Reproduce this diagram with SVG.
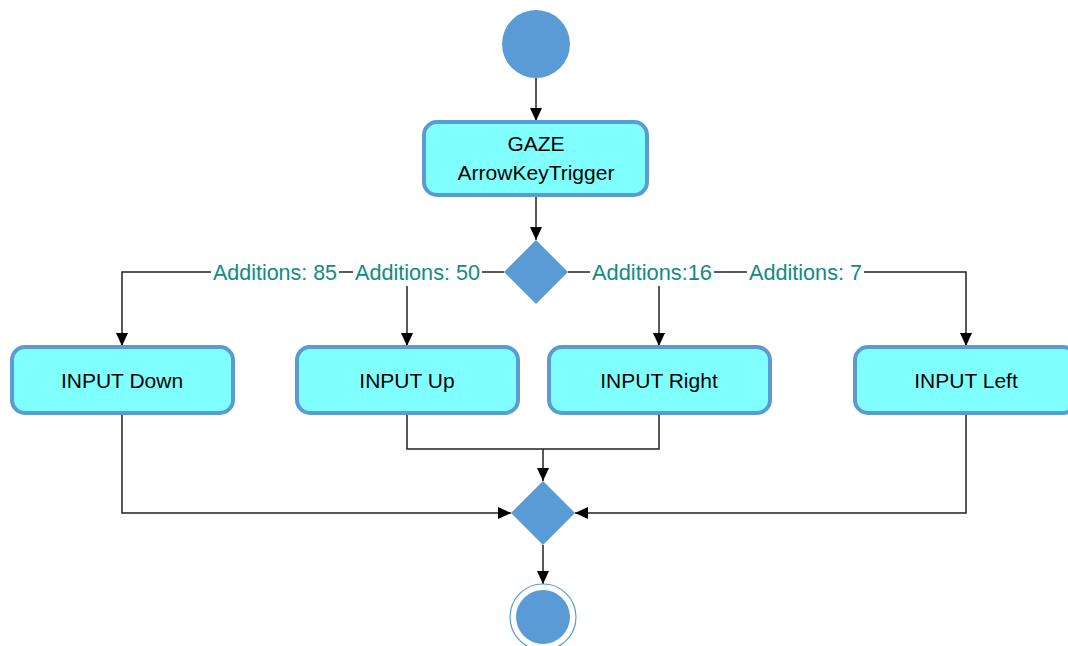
<svg xmlns="http://www.w3.org/2000/svg" width="1068" height="646" viewBox="0 0 1068 646">
  <style>
    .act { fill: #80FFFF; stroke: #5B9BD5; stroke-width: 4; }
    .fill { fill: #5B9BD5; }
    .ring { fill: none; stroke: #5B9BD5; stroke-width: 1.2; }
    .txt { font-family: "Liberation Sans", Arial, sans-serif; font-size: 21px; fill: #000; text-anchor: middle; }
    .lbl { font-family: "Liberation Sans", Arial, sans-serif; font-size: 21.5px; fill: #118A86; }
    .edge { fill: none; stroke: #222; stroke-width: 1.5; }
    .arr { marker-end: url(#head); }
  </style>
  <defs>
    <marker id="head" markerUnits="userSpaceOnUse" markerWidth="14" markerHeight="14" viewBox="0 0 14 14" refX="13" refY="7" orient="auto">
      <path d="M0,1 L13,7 L0,13 Z" fill="#000"/>
    </marker>
  </defs>

  <!-- connectors -->
  <g id="connectors">
    <line class="edge arr" x1="536" y1="78" x2="536" y2="121"/>
    <line class="edge arr" x1="536" y1="196" x2="536" y2="240"/>
    <!-- left branches -->
    <polyline class="edge arr" points="211,272 122,272 122,346"/>
    <line class="edge" x1="339" y1="272" x2="353" y2="272"/>
    <line class="edge" x1="482" y1="272" x2="504" y2="272"/>
    <line class="edge arr" x1="407" y1="286" x2="407" y2="346"/>
    <!-- right branches -->
    <line class="edge" x1="568" y1="272" x2="590" y2="272"/>
    <line class="edge" x1="714" y1="272" x2="747" y2="272"/>
    <polyline class="edge arr" points="864,272 966,272 966,346"/>
    <line class="edge arr" x1="659" y1="286" x2="659" y2="346"/>
    <!-- merge -->
    <polyline class="edge" points="407,414 407,449 659,449 659,414"/>
    <line class="edge arr" x1="543" y1="449" x2="543" y2="481"/>
    <polyline class="edge arr" points="122,414 122,513 511,513"/>
    <polyline class="edge arr" points="966,414 966,513 575,513"/>
    <line class="edge arr" x1="543" y1="545" x2="543" y2="584"/>
  </g>

  <!-- branch labels -->
  <g id="labels">
    <text class="lbl" x="213" y="280" textLength="124" lengthAdjust="spacingAndGlyphs">Additions: 85</text>
    <text class="lbl" x="355" y="280" textLength="125" lengthAdjust="spacingAndGlyphs">Additions: 50</text>
    <text class="lbl" x="592" y="280" textLength="120" lengthAdjust="spacingAndGlyphs">Additions:16</text>
    <text class="lbl" x="749" y="280" textLength="113" lengthAdjust="spacingAndGlyphs">Additions: 7</text>
  </g>

  <g id="start">
    <circle class="fill" cx="536" cy="44" r="34"/>
  </g>

  <g id="gaze">
    <rect class="act" x="424" y="122" width="223" height="73" rx="13"/>
    <text class="txt" x="536" y="151">GAZE</text>
    <text class="txt" x="536" y="180">ArrowKeyTrigger</text>
  </g>

  <g id="split">
    <polygon class="fill" points="536,240 568,272 536,304 504,272"/>
  </g>

  <g id="input-down">
    <rect class="act" x="12" y="347" width="221" height="66" rx="13"/>
    <text class="txt" x="122" y="388">INPUT Down</text>
  </g>

  <g id="input-up">
    <rect class="act" x="297" y="347" width="221" height="66" rx="13"/>
    <text class="txt" x="407" y="388">INPUT Up</text>
  </g>

  <g id="input-right">
    <rect class="act" x="549" y="347" width="221" height="66" rx="13"/>
    <text class="txt" x="659" y="388">INPUT Right</text>
  </g>

  <g id="input-left">
    <rect class="act" x="855" y="347" width="221" height="66" rx="13"/>
    <text class="txt" x="966" y="388">INPUT Left</text>
  </g>

  <g id="merge">
    <polygon class="fill" points="543,481 575,513 543,545 511,513"/>
  </g>

  <g id="end">
    <circle class="ring" cx="543" cy="617" r="33"/>
    <circle class="fill" cx="543" cy="617" r="27"/>
  </g>
</svg>
